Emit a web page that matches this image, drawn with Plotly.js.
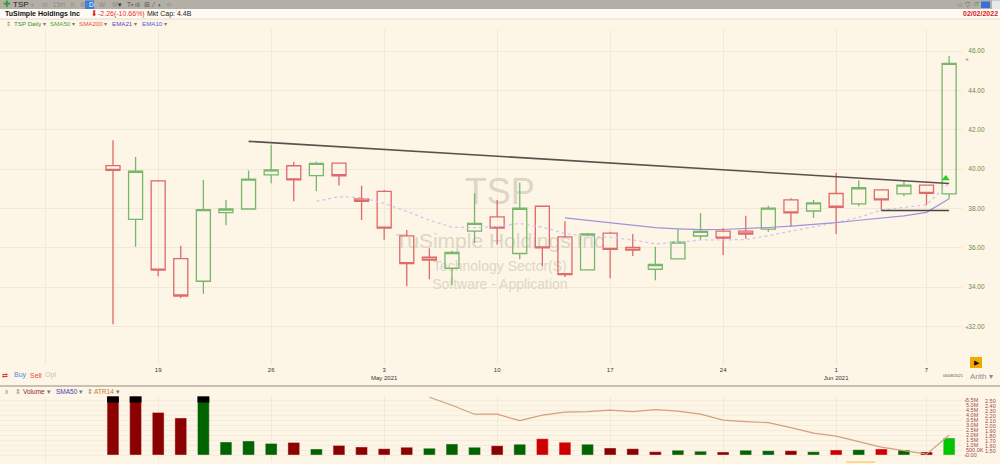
<!DOCTYPE html>
<html><head><meta charset="utf-8">
<script src="https://cdn.plot.ly/plotly-3.0.1.min.js"></script>
<style>html,body{margin:0;padding:0;background:#fdf5e6;}#chart{width:1000px;height:464px;}</style>
</head><body><div id="chart"></div>
<script>
// ---------- DATA (index 0 = 15 Apr 2021, trading days) ----------
const tickIdx    = [-3, 2, 7, 12, 17, 22, 27, 32, 36];
const tickLabels = ['', '19', '26', '3<br>May 2021', '10', '17', '24', '1<br>Jun 2021', '7'];

const open  = [40.18,37.44,39.40,35.45,34.30,37.79,37.97,39.71,40.17,39.67,40.30,38.49,38.87,36.61,35.52,34.96,36.85,37.57,35.71,38.11,36.55,34.88,36.75,36.02,34.91,35.44,36.60,36.85,36.85,36.95,38.43,37.87,38.76,38.23,38.94,38.74,39.18,38.74];
const high  = [41.46,40.61,39.45,36.10,39.45,38.43,39.93,41.24,40.37,40.37,40.30,39.15,38.94,36.90,35.98,35.85,38.77,38.43,39.30,38.11,37.35,36.75,36.82,36.70,36.05,36.95,37.75,37.00,37.63,38.13,38.52,38.43,39.81,39.42,38.94,39.38,39.18,45.74];
const low   = [32.12,36.05,34.56,33.43,33.67,37.14,37.97,39.28,38.36,38.87,39.16,37.41,36.41,34.05,34.40,34.11,36.24,36.15,35.42,35.08,34.52,34.88,34.45,35.58,34.35,35.44,36.39,35.63,36.46,36.82,37.07,37.52,36.70,38.11,37.89,38.62,38.18,38.49];
const close = [39.93,39.89,34.86,33.55,37.94,37.97,39.49,39.96,39.45,40.29,39.66,38.36,37.00,35.20,35.37,35.76,37.24,37.00,38.01,36.00,34.64,36.70,35.92,35.88,35.15,36.29,36.83,36.49,36.70,38.02,37.77,38.28,38.06,39.05,38.43,39.18,38.77,45.37];

const volume = [14.0e6,9.0e6,4.26e6,3.7e6,7.0e6,1.3e6,1.4e6,1.16e6,1.26e6,0.6e6,0.96e6,0.8e6,0.63e6,0.77e6,0.67e6,1.1e6,0.77e6,0.93e6,1.07e6,1.63e6,1.27e6,1.07e6,0.7e6,0.63e6,0.33e6,0.47e6,0.37e6,0.3e6,0.47e6,0.43e6,0.43e6,0.33e6,0.5e6,0.53e6,0.6e6,0.5e6,0.3e6,1.7e6];
const volKind = ['dr','dr','dr','dr','dg','dg','dg','dg','dr','dg','dr','dr','dr','dr','dg','dg','dg','dr','dg','br','br','dg','dr','dr','dr','dg','dg','dr','dg','dg','dr','dg','br','dg','br','dg','dr','bg'];

const atr14 = [null,null,null,null,null,null,null,null,null,null,null,null,null,null,2.57,2.41,2.23,2.23,2.10,2.21,2.27,2.28,2.31,2.28,2.32,2.29,2.23,2.11,2.08,2.06,1.96,1.85,1.79,1.68,1.57,1.50,1.43,1.81];
const ema10 = [null,null,null,null,null,null,null,null,null,38.36,38.60,38.55,38.25,37.85,37.40,37.05,37.02,37.08,37.24,37.05,36.72,36.58,36.53,36.40,36.20,36.27,36.40,36.40,36.42,36.62,36.85,37.05,37.28,37.55,37.92,38.05,38.18,39.30];
const ema21 = [null,null,null,null,null,null,null,null,null,null,null,null,null,null,null,null,null,null,null,null,37.52,37.40,37.28,37.15,37.02,36.96,36.92,36.93,36.97,37.03,37.10,37.18,37.28,37.40,37.52,37.62,37.80,38.49];

const trendIdx = [6, 37],  trendPrice = [41.41, 39.27];
const suppIdx  = [34, 37], suppPrice  = [37.89, 37.89];
const alertIdx = [36.85],  alertPrice = [39.52];

const priceTicks = [32,34,36,38,40,42,44,46];
const volTicks   = [0,0.5e6,1e6,1.5e6,2e6,2.5e6,3e6,3.5e6,4e6,4.5e6,5e6,5.5e6];
const atrTicks   = [1.5,1.6,1.7,1.8,1.9,2.0,2.1,2.2,2.3,2.4,2.5];
const wmText = ['TSP','TuSimple Holdings Inc','Technology Sector(S)','Software - Application'];

// ---------- STYLE ----------
const W = 1000, H = 464, BG = '#fdf5e6';
const FONT = 'Liberation Sans, Arial, sans-serif';
const px = x => x / W, py = y => 1 - y / H;
const idx = open.map((_, i) => i);
const VOL_TOP = 5.85e6;
const volPalette = {dr:'#8b0000', br:'#cc0000', dg:'#006400', bg:'#00c400'};
const volFmt = v => v === 0 ? '0.00' : (v < 1e6 ? (v/1e3).toFixed(1) + 'K' : (v/1e6).toFixed(1) + 'M');

const traces = [];
// watermark
traces.push({type:'scatter', mode:'text', xaxis:'x', yaxis:'y',
  x:[17.12,17.12,17.12,17.12], y:[38.70,36.24,35.02,34.06], text:wmText,
  textfont:{family:FONT, size:[36,21,14,14], color:'#ddd5c6'}, hoverinfo:'skip'});
// volume
traces.push({type:'bar', xaxis:'x', yaxis:'y2', x:idx, y:volume, width:0.52,
  marker:{color:volKind.map(k => volPalette[k]), line:{width:0.6, color:'rgba(255,225,225,0.7)'}}, hoverinfo:'skip'});
traces.push({type:'bar', xaxis:'x', yaxis:'y2', x:idx, y:volume.map(v => v > VOL_TOP ? 1e6 : null),
  base:VOL_TOP - 0.6e6, width:0.52, marker:{color:'#000'}, hoverinfo:'skip'});
// ATR
traces.push({type:'scatter', mode:'lines', xaxis:'x', yaxis:'y3', x:idx, y:atr14,
  line:{color:'#d2a07c', width:1.2}, hoverinfo:'skip'});
// candles (hollow)
traces.push({type:'candlestick', xaxis:'x', yaxis:'y4', x:idx, open:open, high:high, low:low, close:close,
  increasing:{line:{color:'#77b76b', width:1.3}, fillcolor:'rgba(0,0,0,0)'},
  decreasing:{line:{color:'#df6a6a', width:1.3}, fillcolor:'rgba(0,0,0,0)'}, hoverinfo:'skip'});
traces.push({type:'scatter', mode:'lines', xaxis:'x', yaxis:'y4', x:idx, y:ema10,
  line:{color:'#d2c6ee', width:1.3, dash:'dot'}, hoverinfo:'skip'});
traces.push({type:'scatter', mode:'lines', xaxis:'x', yaxis:'y4', x:idx, y:ema21,
  line:{color:'#9c95d6', width:1.2}, hoverinfo:'skip'});
traces.push({type:'scatter', mode:'lines', xaxis:'x', yaxis:'y4', x:trendIdx, y:trendPrice,
  line:{color:'#57524d', width:1.6}, hoverinfo:'skip'});
traces.push({type:'scatter', mode:'lines', xaxis:'x', yaxis:'y4', x:suppIdx, y:suppPrice,
  line:{color:'#4a4540', width:1.5}, hoverinfo:'skip'});
traces.push({type:'scatter', mode:'markers', xaxis:'x', yaxis:'y4', x:alertIdx, y:alertPrice,
  marker:{symbol:'triangle-up', size:7, color:'#1ed21e'}, hoverinfo:'skip'});

const priceRange = [30.044, 47.067];

function ann(x, y, text, size, color, extra) {
  return Object.assign({xref:'paper', yref:'paper', x:px(x), y:py(y), text:text, showarrow:false,
    xanchor:'left', yanchor:'middle', font:{family:FONT, size:size, color:color}}, extra || {});
}
const dd = '<span style="color:#777">▾</span>';
const annotations = [
  // toolbar
  ann(1, 4.5, '✚', 9, '#2e9e2e'),
  ann(11, 4.5, 'TSP', 8, '#222'),
  ann(29, 4.5, '▪', 7, '#8f8b84'),
  ann(40, 4.5, 'm   15m   h   4h', 6.5, '#8f8b84'),
  ann(87, 4.5, 'D', 6.5, '#fff'),
  ann(97, 4.5, 'W    M', 6.5, '#8f8b84'),
  ann(116, 4.5, '▾', 6.5, '#333'),
  ann(125, 4.5, 'T▪ ılı  ⊞  ⁄  ◐  ⁘', 6.5, '#555'),
  ann(955, 4.5, '☆ ▽', 7, '#666'),
  ann(972, 4.5, 'IT', 5.5, '#2e9e2e'),
  // row 2
  ann(3, 14, '<b>TuSimple Holdings Inc</b>', 7, '#111'),
  ann(89, 14, '⬇', 8, '#e0201e', {font:{family:'DejaVu Sans, sans-serif', size:8, color:'#e0201e'}}),
  ann(96, 14, '-2.26(-10.66%)', 7, '#e8302e'),
  ann(145, 14, 'Mkt Cap: 4.4B', 7, '#222'),
  ann(1000, 14, '<b>02/02/2022</b>', 7, '#d42020', {xanchor:'right'}),
  // row 3
  ann(4, 24, '⇕', 6.2, '#888'),
  ann(12, 24, 'TSP Daily ' + dd, 6.2, '#3a8f3a'),
  ann(48, 24, 'SMA50 ' + dd, 6.2, '#49a649'),
  ann(77, 24, 'SMA200 ' + dd, 6.2, '#e0564c'),
  ann(110, 24, 'EMA21 ' + dd, 6.2, '#5d47c8'),
  ann(140, 24, 'EMA10 ' + dd, 6.2, '#4c5ce8'),
  // bottom strip of price pane
  ann(0, 375, '⇄', 7, '#e03030'),
  ann(12, 375, 'Buy', 7, '#4a8ce0'),
  ann(28, 375, 'Sell', 7, '#e84848'),
  ann(43, 375, 'Opt', 7, '#c8c4bc'),
  ann(941, 375, '06/08/2021', 4, '#555'),
  ann(972, 362, '▶', 7, '#111'),
  ann(968, 376, 'Arith ▾', 8, '#8a8a8a'),
  ann(963, 59, '◂', 6, '#aaa'), ann(963, 327, '◂', 6, '#aaa'),
  // volume header
  ann(3, 391, 'x', 6.5, '#888'),
  ann(13, 391, '⇕', 6.5, '#888'),
  ann(21, 391, 'Volume ' + dd, 6.5, '#8a2b2b'),
  ann(54, 391, 'SMA50 ' + dd, 6.5, '#4a3fb0'),
  ann(85, 391, '⇕', 6.5, '#888'),
  ann(92, 391, 'ATR14 ' + dd, 6.5, '#c07a3a'),
  ann(962, 400, '◂', 5, '#aaa'), ann(962, 455, '◂', 5, '#aaa')
];

const shapes = [
  {type:'rect', xref:'paper', yref:'paper', x0:0, x1:1, y0:py(9), y1:1, fillcolor:'#b3afa7', line:{width:0}, layer:'below'},
  {type:'rect', xref:'paper', yref:'paper', x0:0, x1:1, y0:py(19), y1:py(9), fillcolor:'#fefbf4', line:{width:0}, layer:'below'},
  {type:'line', xref:'paper', yref:'paper', x0:0, x1:1, y0:py(19), y1:py(19), line:{color:'#e6dcc8', width:1}},
  {type:'rect', xref:'paper', yref:'paper', x0:px(85), x1:px(94), y0:py(9), y1:py(0.5), fillcolor:'#3b7dd8', line:{width:0}},
  {type:'rect', xref:'paper', yref:'paper', x0:px(981), x1:px(990), y0:py(8), y1:py(1.5), fillcolor:'#3b6fd8', line:{width:0}},
  {type:'rect', xref:'paper', yref:'paper', x0:px(992), x1:px(1000), y0:py(9), y1:py(0.5), fillcolor:'#e8e8e8', line:{width:0}},
  {type:'rect', xref:'paper', yref:'paper', x0:px(970), x1:px(982), y0:py(368), y1:py(357), fillcolor:'#f6a800', line:{width:0}},
  {type:'line', xref:'paper', yref:'paper', x0:0, x1:1, y0:py(386), y1:py(386), line:{color:'#b5ad9e', width:1.5}},
  {type:'rect', xref:'paper', yref:'paper', x0:px(846), x1:px(875), y0:py(463), y1:py(461), fillcolor:'#ffd890', line:{width:0}}
];

const layout = {
  width:W, height:H, margin:{l:0, r:0, t:0, b:0},
  paper_bgcolor:BG, plot_bgcolor:BG, showlegend:false,
  barmode:'overlay', boxgap:0.38, boxgroupgap:0,
  font:{family:FONT},
  xaxis:{domain:[0, 0.962], range:[-5.0, 37.57], tickmode:'array', tickvals:tickIdx, ticktext:tickLabels,
    showgrid:true, gridcolor:'#f1e8d5', zeroline:false, showline:false, ticks:'',
    tickfont:{family:FONT, size:6, color:'#333'}, anchor:'y', rangeslider:{visible:false}, fixedrange:true},
  yaxis:{domain:[py(365), py(30)], range:priceRange, side:'right', anchor:'x',
    tickmode:'array', tickvals:priceTicks, tickformat:'.2f',
    tickfont:{family:FONT, size:6.5, color:'#6a8c48'}, showgrid:true, gridcolor:'#f1e8d5',
    zeroline:false, showline:false, ticks:'outside', ticklen:4, tickcolor:'rgba(0,0,0,0)'},
  yaxis4:{overlaying:'y', range:priceRange, visible:false, showgrid:false, zeroline:false},
  yaxis2:{domain:[py(462), py(396.5)], range:[-0.7e6, VOL_TOP], side:'right', anchor:'free', position:0.965,
    tickmode:'array', tickvals:volTicks, ticktext:volTicks.map(volFmt),
    tickfont:{family:FONT, size:5.5, color:'#9b4a4a'}, showgrid:true, gridcolor:'#f4ecdd',
    zeroline:false, showline:false, ticks:''},
  yaxis3:{overlaying:'y2', range:[1.274, 2.584], side:'right', anchor:'free', position:0.984,
    tickmode:'array', tickvals:atrTicks, tickformat:'.2f',
    tickfont:{family:FONT, size:5.5, color:'#9b4a4a'}, showgrid:false, zeroline:false, showline:false, ticks:''},
  annotations:annotations, shapes:shapes
};

Plotly.newPlot('chart', traces, layout, {displayModeBar:false, staticPlot:true});
</script>
</body></html>
